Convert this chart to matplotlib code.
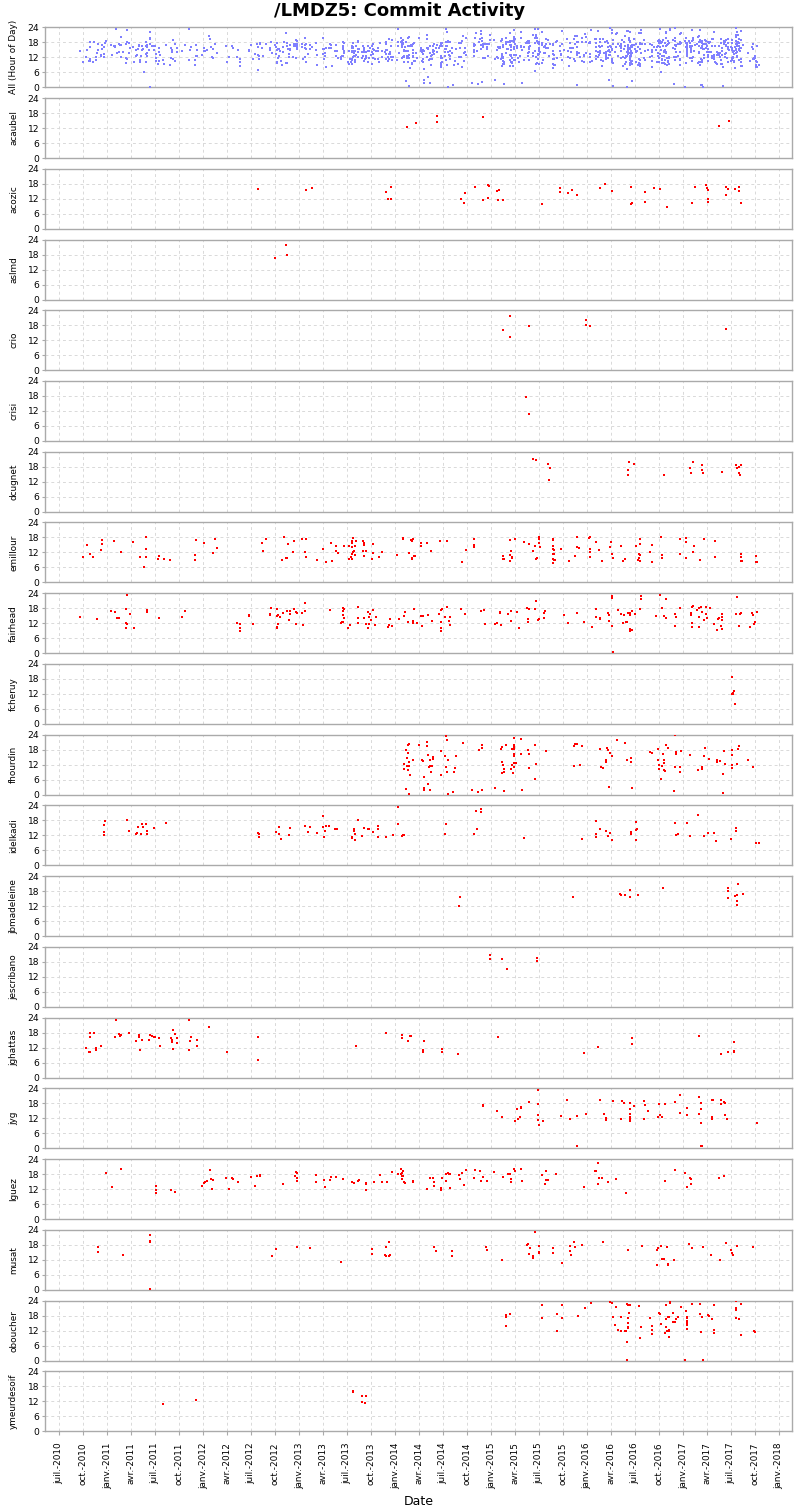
import datetime as dt
import matplotlib
matplotlib.use("Agg")
import matplotlib.pyplot as plt
import matplotlib.dates as mdates
from matplotlib.ticker import FuncFormatter

# ---------------- data: (decimal year, hour of day) per author ----------------
acaubel = [(2014.12, 12.4), (2014.22, 13.9), (2014.44, 16.9), (2014.44, 14.3), (2014.92, 16.3),
           (2017.37, 13.0), (2017.48, 14.9)]

acozic = [(2012.57, 16.0), (2013.07, 15.5), (2013.13, 16.3), (2013.90, 14.9), (2013.92, 12.0),
          (2013.96, 16.7), (2013.96, 12.0), (2014.69, 12.1), (2014.72, 10.5), (2014.73, 14.3),
          (2014.83, 16.9), (2014.92, 11.7), (2014.97, 17.5), (2014.98, 17.2), (2014.97, 12.4),
          (2015.06, 15.0), (2015.08, 15.7), (2015.07, 11.7), (2015.12, 11.6), (2015.53, 9.9),
          (2015.72, 16.5), (2015.72, 14.7), (2015.80, 14.5), (2015.84, 15.6), (2015.90, 13.5),
          (2016.14, 16.3), (2016.19, 18.0), (2016.26, 15.1), (2016.46, 16.7), (2016.47, 10.5),
          (2016.46, 10.1), (2016.60, 14.7), (2016.60, 10.8), (2016.70, 16.3), (2016.76, 16.0),
          (2016.83, 8.8), (2017.09, 10.5), (2017.12, 16.9), (2017.24, 17.5), (2017.25, 16.4),
          (2017.26, 15.5), (2017.26, 12.1), (2017.26, 10.7), (2017.45, 16.8), (2017.47, 16.1),
          (2017.47, 15.9), (2017.45, 13.6), (2017.54, 16.0), (2017.58, 16.7), (2017.58, 15.1),
          (2017.60, 10.3)]

aslmd = [(2012.75, 16.8), (2012.86, 21.8), (2012.87, 17.7)]

crio = [(2015.12, 16.2), (2015.20, 21.6), (2015.20, 13.1), (2015.40, 17.8), (2015.99, 20.1),
        (2015.99, 18.0), (2016.03, 17.6), (2017.45, 16.4)]

crisi = [(2015.36, 17.6), (2015.39, 10.9)]

dcugnet = [(2015.44, 20.9), (2015.47, 20.5), (2015.59, 19.0), (2015.61, 17.3), (2015.60, 12.7),
           (2016.43, 16.8), (2016.44, 19.7), (2016.49, 19.2), (2016.43, 14.6), (2016.80, 14.6),
           (2017.07, 17.6), (2017.10, 19.7), (2017.08, 15.5), (2017.20, 16.5), (2017.20, 18.5),
           (2017.21, 15.5), (2017.41, 15.7), (2017.55, 18.5), (2017.56, 17.4), (2017.58, 17.7),
           (2017.60, 18.8), (2017.58, 15.5), (2017.59, 14.5)]

emillour = [(2010.75, 10.3), (2010.79, 14.9), (2010.82, 11.3), (2010.85, 10.3), (2010.93, 13.1),
            (2010.94, 15.2), (2010.94, 17.1), (2011.07, 16.5), (2011.14, 12.3), (2011.27, 16.0),
            (2011.34, 10.1), (2011.40, 18.1), (2011.40, 13.5), (2011.40, 10.0), (2011.38, 6.3),
            (2011.54, 10.7), (2011.53, 9.5), (2011.59, 9.2), (2011.65, 8.9), (2011.91, 10.9),
            (2011.91, 8.8), (2011.92, 16.8), (2012.01, 15.6), (2012.10, 11.9), (2012.12, 17.5),
            (2012.14, 13.7), (2012.61, 15.6), (2012.62, 12.7), (2012.65, 17.3), (2012.84, 18.3),
            (2012.88, 15.5), (2012.82, 8.9), (2012.86, 9.6), (2012.87, 9.7), (2012.94, 16.5),
            (2012.93, 12.3), (2013.03, 17.3), (2013.07, 17.3), (2013.06, 12.0), (2013.07, 10.3),
            (2013.18, 8.9), (2013.25, 13.5), (2013.28, 8.3), (2013.33, 15.9), (2013.34, 8.4),
            (2013.38, 14.7), (2013.38, 12.5), (2013.40, 11.7), (2013.47, 14.5), (2013.52, 14.7),
            (2013.52, 9.5), (2013.55, 16.5), (2013.55, 15.6), (2013.55, 14.3), (2013.56, 17.9),
            (2013.56, 12.1), (2013.55, 11.2), (2013.54, 10.3), (2013.55, 9.2), (2013.58, 14.7),
            (2013.59, 16.5), (2013.57, 12.5), (2013.58, 10.9), (2013.66, 16.5), (2013.67, 15.6),
            (2013.67, 14.9), (2013.66, 12.7), (2013.69, 12.7), (2013.67, 10.5), (2013.77, 15.3),
            (2013.77, 11.7), (2013.76, 9.3), (2013.83, 10.0), (2013.86, 12.1), (2014.02, 10.8),
            (2014.08, 17.9), (2014.08, 17.3), (2014.16, 17.1), (2014.18, 17.3), (2014.17, 16.4),
            (2014.14, 11.7), (2014.17, 9.5), (2014.20, 10.5), (2014.17, 9.7), (2014.21, 10.7),
            (2014.27, 15.6), (2014.27, 14.5), (2014.33, 15.6), (2014.37, 12.5), (2014.47, 16.4),
            (2014.54, 16.7), (2014.70, 8.1), (2014.74, 13.1), (2014.82, 17.5), (2014.82, 15.1),
            (2014.82, 14.3), (2015.12, 10.7), (2015.12, 9.3), (2015.13, 9.5), (2015.20, 8.4),
            (2015.20, 10.8), (2015.20, 16.8), (2015.21, 12.7), (2015.22, 9.6), (2015.22, 10.1),
            (2015.25, 17.3), (2015.34, 16.3), (2015.40, 15.2), (2015.44, 12.7), (2015.46, 14.5),
            (2015.47, 9.5), (2015.48, 9.6), (2015.50, 17.2), (2015.50, 15.6), (2015.50, 18.3),
            (2015.51, 14.1), (2015.64, 17.3), (2015.65, 17.1), (2015.64, 14.5), (2015.65, 13.5),
            (2015.66, 12.8), (2015.64, 11.5), (2015.66, 11.5), (2015.64, 9.3), (2015.66, 8.8),
            (2015.65, 7.7), (2015.67, 8.9), (2015.73, 13.2), (2015.81, 8.4), (2015.87, 10.7),
            (2015.90, 18.1), (2015.90, 14.3), (2015.92, 13.6), (2016.02, 17.6), (2016.03, 18.0),
            (2016.03, 12.3), (2016.03, 13.3), (2016.03, 10.3), (2016.09, 16.3), (2016.12, 12.8),
            (2016.16, 8.5), (2016.24, 14.0), (2016.25, 16.3), (2016.26, 11.5), (2016.27, 9.9),
            (2016.35, 14.4), (2016.37, 8.7), (2016.39, 9.2), (2016.51, 14.5), (2016.53, 8.9),
            (2016.54, 11.3), (2016.55, 10.9), (2016.55, 15.5), (2016.55, 17.3), (2016.55, 8.7),
            (2016.54, 9.9), (2016.66, 12.1), (2016.68, 8.0), (2016.68, 14.8), (2016.77, 18.1),
            (2016.78, 10.8), (2016.78, 9.6), (2016.97, 17.3), (2017.03, 17.6), (2017.03, 16.3),
            (2017.03, 9.9), (2016.97, 11.2), (2017.10, 12.1), (2017.11, 14.7), (2017.18, 9.1),
            (2017.22, 17.3), (2017.33, 16.5), (2017.33, 10.0), (2017.60, 11.3), (2017.60, 10.3),
            (2017.60, 8.7), (2017.61, 8.5), (2017.76, 10.5), (2017.76, 8.3), (2017.77, 8.0)]

fairhead = [(2010.71, 14.4), (2010.89, 13.7), (2011.04, 16.9), (2011.08, 16.3), (2011.10, 13.9),
            (2011.12, 14.0), (2011.19, 17.5), (2011.20, 23.1), (2011.19, 11.9), (2011.20, 11.5),
            (2011.19, 9.9), (2011.24, 15.6), (2011.28, 10.0), (2011.41, 17.1), (2011.41, 16.3),
            (2011.54, 14.1), (2011.78, 14.4), (2011.81, 16.9), (2012.35, 12.1), (2012.38, 11.5),
            (2012.38, 10.0), (2012.38, 8.7), (2012.52, 11.5), (2012.48, 15.1), (2012.48, 14.7),
            (2012.69, 15.1), (2012.69, 15.6), (2012.71, 18.0), (2012.77, 17.7), (2012.77, 14.9),
            (2012.78, 15.3), (2012.78, 11.7), (2012.77, 9.9), (2012.77, 10.3), (2012.80, 14.4),
            (2012.83, 16.1), (2012.87, 16.7), (2012.90, 16.8), (2012.90, 15.5), (2012.89, 13.2),
            (2012.94, 17.5), (2012.97, 16.4), (2012.98, 16.1), (2012.97, 11.7), (2013.03, 16.1),
            (2013.04, 11.2), (2013.06, 19.9), (2013.06, 16.9), (2013.32, 17.2), (2013.45, 18.1),
            (2013.47, 17.6), (2013.45, 16.7), (2013.45, 15.2), (2013.47, 13.9), (2013.45, 12.5),
            (2013.43, 12.1), (2013.44, 12.5), (2013.53, 11.3), (2013.51, 10.1), (2013.61, 18.4),
            (2013.61, 14.1), (2013.61, 12.0), (2013.67, 14.1), (2013.72, 16.5), (2013.74, 15.7),
            (2013.77, 17.2), (2013.73, 14.4), (2013.75, 13.1), (2013.70, 11.7), (2013.73, 11.7),
            (2013.72, 10.1), (2013.79, 11.2), (2013.80, 14.4), (2013.92, 10.4), (2013.94, 11.3),
            (2013.97, 11.0), (2013.95, 13.5), (2014.04, 13.6), (2014.09, 14.9), (2014.10, 16.3),
            (2014.13, 12.4), (2014.18, 12.0), (2014.18, 12.7), (2014.20, 17.7), (2014.23, 11.9),
            (2014.20, 17.7), (2014.18, 12.0), (2014.23, 11.9), (2014.27, 14.8), (2014.29, 14.9),
            (2014.28, 10.7), (2014.34, 15.3), (2014.38, 12.9), (2014.46, 15.6), (2014.48, 17.1),
            (2014.49, 17.6), (2014.48, 12.3), (2014.48, 9.9), (2014.48, 8.9), (2014.52, 14.3),
            (2014.54, 18.3), (2014.56, 12.9), (2014.57, 14.4), (2014.57, 11.2), (2014.69, 17.6),
            (2014.73, 15.6), (2014.89, 16.9), (2014.93, 17.2), (2014.94, 11.6), (2015.04, 11.5),
            (2015.06, 12.1), (2015.10, 11.3), (2015.09, 16.3), (2015.09, 15.9), (2015.18, 15.5),
            (2015.21, 16.9), (2015.21, 12.9), (2015.27, 16.5), (2015.29, 10.1), (2015.37, 18.0),
            (2015.39, 17.6), (2015.38, 13.6), (2015.38, 12.5), (2015.47, 20.9), (2015.46, 17.6),
            (2015.49, 13.1), (2015.50, 13.5), (2015.56, 16.7), (2015.55, 13.9), (2015.55, 16.1),
            (2015.76, 15.1), (2015.80, 12.0), (2015.90, 16.0), (2015.97, 12.5), (2016.05, 10.5),
            (2016.09, 17.7), (2016.09, 14.5), (2016.14, 14.0), (2016.14, 13.6), (2016.22, 16.1),
            (2016.23, 15.1), (2016.23, 12.9), (2016.26, 22.9), (2016.26, 21.9), (2016.26, 10.7),
            (2016.27, 0.4), (2016.32, 17.3), (2016.35, 15.7), (2016.38, 15.2), (2016.37, 12.1),
            (2016.41, 12.4), (2016.42, 12.5), (2016.43, 15.9), (2016.45, 15.9), (2016.45, 15.2),
            (2016.47, 16.8), (2016.50, 15.5), (2016.45, 9.6), (2016.45, 8.9), (2016.47, 9.2),
            (2016.55, 17.6), (2016.56, 22.9), (2016.56, 21.6), (2016.76, 23.2), (2016.78, 18.0),
            (2016.82, 21.6), (2016.72, 14.8), (2016.80, 14.7), (2016.82, 14.0), (2016.91, 15.5),
            (2016.93, 14.3), (2016.91, 10.9), (2016.97, 18.0), (2017.08, 16.1), (2017.08, 15.1),
            (2017.09, 18.4), (2017.10, 18.8), (2017.09, 11.9), (2017.09, 10.4), (2017.14, 17.2),
            (2017.16, 14.3), (2017.16, 10.3), (2017.17, 18.0), (2017.19, 18.5), (2017.20, 16.3),
            (2017.22, 13.1), (2017.24, 18.4), (2017.24, 15.6), (2017.25, 14.0), (2017.28, 18.1),
            (2017.32, 11.7), (2017.35, 9.3), (2017.36, 13.5), (2017.37, 13.9), (2017.40, 15.6),
            (2017.41, 14.4), (2017.41, 13.1), (2017.39, 10.9), (2017.40, 9.5), (2017.56, 22.3),
            (2017.55, 15.5), (2017.58, 10.9), (2017.59, 15.7), (2017.60, 15.9), (2017.72, 16.1),
            (2017.73, 15.2), (2017.77, 16.5), (2017.70, 10.5), (2017.74, 11.5), (2017.75, 12.4)]

fcheruy = [(2017.51, 18.9), (2017.53, 13.2), (2017.51, 11.9), (2017.52, 11.8), (2017.52, 12.2),
           (2017.54, 7.8)]

fhourdin = [(2014.09, 12.4), (2014.09, 10.1), (2014.11, 18.0), (2014.12, 14.7), (2014.12, 11.6),
            (2014.13, 19.9), (2014.14, 20.3), (2014.13, 16.7), (2014.14, 13.1), (2014.14, 11.6),
            (2014.13, 10.0), (2014.15, 7.7), (2014.11, 2.4), (2014.14, 0.4), (2014.18, 13.7),
            (2014.25, 19.9), (2014.19, 13.7), (2014.28, 14.0), (2014.29, 13.3), (2014.30, 7.2),
            (2014.30, 2.8), (2014.30, 1.7), (2014.33, 20.9), (2014.33, 19.3), (2014.34, 15.9),
            (2014.35, 11.1), (2014.34, 4.1), (2014.36, 13.9), (2014.36, 11.5), (2014.37, 8.9),
            (2014.38, 11.5), (2014.39, 15.1), (2014.39, 14.1), (2014.36, 1.9), (2014.48, 17.6),
            (2014.48, 8.0), (2014.52, 15.5), (2014.53, 23.3), (2014.54, 22.0), (2014.53, 11.1),
            (2014.54, 9.1), (2014.55, 14.0), (2014.55, 0.3), (2014.60, 1.1), (2014.61, 8.9),
            (2014.62, 10.7), (2014.63, 15.3), (2014.71, 20.7), (2014.80, 1.7), (2014.86, 1.2),
            (2014.87, 18.0), (2014.90, 19.9), (2014.90, 18.7), (2014.90, 2.0), (2015.04, 2.8),
            (2015.10, 18.4), (2015.11, 19.0), (2015.15, 19.7), (2015.13, 1.3), (2015.11, 13.2),
            (2015.12, 12.0), (2015.13, 10.3), (2015.11, 8.7), (2015.13, 9.2), (2015.22, 18.4),
            (2015.24, 22.8), (2015.24, 20.0), (2015.24, 18.9), (2015.24, 18.1), (2015.24, 16.1),
            (2015.24, 15.3), (2015.24, 12.8), (2015.22, 11.9), (2015.26, 12.8), (2015.24, 11.1),
            (2015.21, 10.1), (2015.23, 8.7), (2015.31, 22.3), (2015.31, 16.1), (2015.32, 1.9),
            (2015.38, 17.9), (2015.39, 16.1), (2015.40, 10.8), (2015.46, 19.9), (2015.47, 12.1),
            (2015.46, 6.4), (2015.57, 17.5), (2015.86, 19.5), (2015.87, 20.4), (2015.90, 20.4),
            (2015.95, 19.6), (2015.86, 11.3), (2015.93, 12.0), (2016.13, 18.1), (2016.21, 18.7),
            (2016.22, 17.9), (2016.24, 16.5), (2016.26, 15.3), (2016.20, 14.0), (2016.20, 13.1),
            (2016.15, 10.9), (2016.17, 10.7), (2016.23, 3.1), (2016.31, 21.7), (2016.40, 20.7),
            (2016.42, 14.0), (2016.46, 14.5), (2016.46, 13.2), (2016.47, 2.7), (2016.66, 17.2),
            (2016.68, 16.8), (2016.74, 18.4), (2016.82, 19.7), (2016.84, 18.7), (2016.79, 16.4),
            (2016.80, 14.0), (2016.74, 13.9), (2016.75, 11.9), (2016.78, 11.5), (2016.80, 12.5),
            (2016.80, 9.9), (2016.75, 10.1), (2016.77, 6.3), (2016.81, 9.5), (2016.92, 23.7),
            (2016.93, 16.9), (2016.93, 16.4), (2016.98, 17.6), (2016.92, 11.1), (2016.97, 11.1),
            (2016.97, 8.9), (2016.90, 1.5), (2017.07, 16.0), (2017.15, 9.9), (2017.20, 10.9),
            (2017.20, 10.3), (2017.22, 15.3), (2017.23, 18.8), (2017.27, 14.3), (2017.35, 14.0),
            (2017.35, 13.1), (2017.38, 13.6), (2017.43, 17.6), (2017.44, 12.1), (2017.42, 8.1),
            (2017.42, 0.7), (2017.51, 15.9), (2017.51, 17.9), (2017.51, 11.9), (2017.51, 10.8),
            (2017.56, 12.1), (2017.57, 18.3), (2017.58, 19.5), (2017.68, 13.9), (2017.73, 11.2)]

idelkadi = [(2010.97, 12.0), (2010.97, 13.2), (2010.97, 16.0), (2010.98, 17.6), (2010.98, 17.9),
            (2011.21, 18.1), (2011.23, 13.7), (2011.30, 12.7), (2011.31, 12.8), (2011.32, 15.3),
            (2011.36, 16.7), (2011.37, 15.2), (2011.35, 12.4), (2011.40, 16.7), (2011.41, 13.7),
            (2011.41, 12.7), (2011.49, 14.8), (2011.61, 16.9), (2012.57, 12.8), (2012.58, 12.7),
            (2012.58, 11.2), (2012.76, 13.3), (2012.79, 15.5), (2012.79, 12.5), (2012.81, 10.5),
            (2012.89, 12.3), (2012.90, 14.8), (2013.06, 15.9), (2013.09, 13.5), (2013.11, 15.2),
            (2013.18, 13.1), (2013.25, 19.7), (2013.25, 15.2), (2013.26, 11.5), (2013.27, 13.6),
            (2013.28, 15.6), (2013.31, 15.6), (2013.37, 14.7), (2013.39, 14.7), (2013.55, 11.5),
            (2013.55, 10.9), (2013.58, 10.3), (2013.58, 12.5), (2013.57, 14.7), (2013.57, 13.7),
            (2013.61, 18.0), (2013.65, 11.7), (2013.67, 14.9), (2013.72, 14.5), (2013.73, 14.4),
            (2013.77, 13.3), (2013.82, 15.6), (2013.82, 14.7), (2013.82, 11.3), (2013.90, 11.2),
            (2013.98, 12.3), (2014.03, 23.5), (2014.03, 16.4), (2014.07, 11.6), (2014.08, 12.1),
            (2014.09, 12.3), (2014.53, 16.7), (2014.52, 12.4), (2014.84, 21.6), (2014.89, 22.4),
            (2014.89, 21.3), (2014.85, 14.5), (2014.82, 12.5), (2015.34, 10.9), (2015.95, 10.7),
            (2016.09, 17.6), (2016.14, 14.7), (2016.09, 12.4), (2016.09, 11.5), (2016.20, 13.6),
            (2016.22, 11.7), (2016.24, 12.9), (2016.26, 10.1), (2016.46, 13.3), (2016.46, 12.7),
            (2016.51, 17.3), (2016.51, 14.3), (2016.52, 14.7), (2016.51, 10.3), (2016.92, 16.8),
            (2017.04, 17.1), (2017.15, 20.3), (2016.93, 12.0), (2016.95, 12.4), (2017.07, 11.7),
            (2017.22, 11.7), (2017.26, 12.9), (2017.32, 12.8), (2017.34, 9.7), (2017.50, 10.4),
            (2017.55, 15.1), (2017.55, 13.6), (2017.76, 8.8), (2017.79, 9.1)]

jbmadeleine = [(2014.68, 15.6), (2014.66, 12.1), (2015.85, 15.6), (2016.34, 16.7), (2016.35, 16.4),
               (2016.40, 16.4), (2016.45, 18.5), (2016.45, 15.5), (2016.53, 16.3), (2016.79, 19.1),
               (2017.47, 19.3), (2017.47, 17.9), (2017.47, 15.2), (2017.57, 20.8), (2017.56, 16.5),
               (2017.54, 16.1), (2017.62, 16.8), (2017.56, 14.1), (2017.56, 12.4)]

jescribano = [(2014.99, 20.8), (2014.99, 19.1), (2015.11, 19.3), (2015.17, 15.2), (2015.48, 19.7),
              (2015.48, 18.5)]

jghattas = [(2010.78, 12.0), (2010.82, 16.1), (2010.81, 10.4), (2010.82, 10.4), (2010.82, 18.0),
            (2010.86, 18.0), (2010.88, 12.0), (2010.88, 10.9), (2010.93, 12.5), (2011.09, 23.2),
            (2011.08, 16.4), (2011.12, 17.5), (2011.13, 16.8), (2011.14, 17.1), (2011.23, 17.9),
            (2011.30, 14.8), (2011.33, 17.1), (2011.33, 16.4), (2011.34, 10.9), (2011.36, 14.9),
            (2011.43, 14.9), (2011.45, 17.2), (2011.47, 16.7), (2011.49, 16.4), (2011.50, 16.4),
            (2011.54, 15.7), (2011.55, 12.8), (2011.68, 18.9), (2011.71, 17.3), (2011.66, 15.7),
            (2011.67, 14.9), (2011.67, 14.1), (2011.68, 11.5), (2011.69, 11.5), (2011.73, 15.7),
            (2011.73, 14.0), (2011.85, 23.2), (2011.87, 16.1), (2011.86, 14.8), (2011.85, 10.9),
            (2011.94, 15.1), (2011.94, 12.7), (2012.06, 20.4), (2012.25, 10.1), (2012.57, 16.1),
            (2012.57, 7.1), (2013.59, 12.8), (2013.90, 18.0), (2014.07, 17.1), (2014.07, 16.0),
            (2014.13, 14.7), (2014.15, 16.7), (2014.16, 16.7), (2014.30, 14.7), (2014.29, 11.2),
            (2014.29, 10.3), (2014.49, 11.6), (2014.49, 10.3), (2014.65, 9.3), (2015.07, 16.1),
            (2015.97, 10.0), (2016.11, 12.1), (2016.47, 16.0), (2016.47, 13.6), (2017.17, 16.5),
            (2017.39, 9.5), (2017.47, 10.1), (2017.53, 14.4), (2017.53, 10.7), (2017.53, 10.3)]

jyg = [(2014.92, 17.5), (2014.92, 17.1), (2015.06, 14.8), (2015.11, 12.7), (2015.25, 10.9),
       (2015.27, 15.6), (2015.28, 11.6), (2015.30, 12.7), (2015.31, 16.7), (2015.31, 16.3),
       (2015.40, 18.4), (2015.49, 23.2), (2015.49, 17.9), (2015.49, 13.2), (2015.49, 11.5),
       (2015.50, 9.5), (2015.54, 11.1), (2015.73, 12.8), (2015.79, 19.5), (2015.82, 11.7),
       (2015.90, 13.1), (2015.90, 0.9), (2015.99, 13.7), (2016.14, 19.3), (2016.18, 13.6),
       (2016.20, 12.1), (2016.20, 11.3), (2016.27, 18.8), (2016.35, 11.6), (2016.36, 18.9),
       (2016.38, 18.1), (2016.45, 18.1), (2016.45, 15.7), (2016.45, 13.7), (2016.45, 12.7),
       (2016.45, 11.9), (2016.45, 10.9), (2016.49, 17.1), (2016.59, 18.8), (2016.60, 17.5),
       (2016.59, 11.6), (2016.63, 14.8), (2016.74, 12.4), (2016.75, 17.7), (2016.76, 13.2),
       (2016.78, 12.7), (2016.81, 17.9), (2016.91, 18.5), (2016.97, 21.3), (2016.97, 14.1),
       (2017.04, 16.3), (2017.04, 13.3), (2017.17, 20.7), (2017.19, 18.3), (2017.19, 15.7),
       (2017.17, 13.6), (2017.19, 10.1), (2017.19, 1.1), (2017.20, 0.9), (2017.30, 19.2),
       (2017.31, 19.3), (2017.30, 12.7), (2017.30, 11.6), (2017.39, 19.5), (2017.39, 17.6),
       (2017.43, 18.5), (2017.44, 18.0), (2017.44, 13.2), (2017.46, 11.6), (2017.77, 10.1)]

lguez = [(2010.99, 18.4), (2011.05, 12.8), (2011.14, 20.0), (2011.51, 13.4), (2011.51, 11.6),
         (2011.51, 10.5), (2011.66, 11.6), (2011.71, 10.7), (2011.99, 13.1), (2012.01, 14.5),
         (2012.02, 14.7), (2012.04, 15.1), (2012.07, 19.5), (2012.08, 16.2), (2012.10, 15.5),
         (2012.09, 12.0), (2012.24, 16.5), (2012.27, 12.0), (2012.30, 16.5), (2012.31, 15.9),
         (2012.36, 15.0), (2012.50, 16.8), (2012.54, 13.4), (2012.56, 17.3), (2012.59, 17.6),
         (2012.59, 17.3), (2012.83, 14.1), (2012.95, 17.4), (2012.97, 18.9), (2012.98, 18.6),
         (2012.98, 16.5), (2012.98, 15.3), (2013.17, 17.7), (2013.17, 15.0), (2013.26, 15.5),
         (2013.27, 12.7), (2013.32, 15.8), (2013.33, 16.9), (2013.38, 17.0), (2013.45, 16.2),
         (2013.55, 14.7), (2013.57, 14.6), (2013.61, 15.3), (2013.62, 15.5), (2013.70, 14.3),
         (2013.70, 11.6), (2013.70, 14.1), (2013.78, 15.0), (2013.84, 17.8), (2013.86, 14.7),
         (2013.91, 15.0), (2013.97, 18.8), (2014.03, 18.0), (2014.06, 19.9), (2014.07, 18.6),
         (2014.08, 19.1), (2014.06, 18.0), (2014.07, 17.2), (2014.08, 17.2), (2014.07, 16.0),
         (2014.09, 14.7), (2014.10, 14.5), (2014.18, 15.0), (2014.19, 15.1), (2014.33, 12.0),
         (2014.36, 16.6), (2014.39, 16.6), (2014.40, 14.7), (2014.40, 13.2), (2014.48, 12.6),
         (2014.48, 11.6), (2014.49, 16.6), (2014.53, 18.2), (2014.53, 15.3), (2014.55, 18.6),
         (2014.56, 18.2), (2014.57, 18.1), (2014.57, 12.6), (2014.67, 17.6), (2014.68, 15.9),
         (2014.70, 18.6), (2014.72, 13.8), (2014.74, 19.6), (2014.82, 16.6), (2014.83, 19.6),
         (2014.88, 19.2), (2014.89, 15.3), (2014.91, 17.0), (2014.96, 15.4), (2015.03, 18.8),
         (2015.12, 17.0), (2015.18, 18.0), (2015.20, 18.0), (2015.21, 16.1), (2015.21, 15.0),
         (2015.24, 19.9), (2015.25, 19.2), (2015.31, 19.9), (2015.32, 15.1), (2015.53, 17.7),
         (2015.57, 19.2), (2015.57, 15.8), (2015.59, 15.8), (2015.56, 13.9), (2015.68, 18.1),
         (2015.97, 12.8), (2016.08, 19.2), (2016.11, 22.6), (2016.09, 19.2), (2016.12, 16.4),
         (2016.16, 16.6), (2016.11, 14.2), (2016.22, 14.7), (2016.30, 16.1), (2016.41, 10.3),
         (2016.81, 15.1), (2016.91, 19.6), (2017.02, 18.6), (2017.07, 16.6), (2017.08, 15.9),
         (2017.08, 14.2), (2017.04, 12.7), (2017.37, 16.4), (2017.43, 17.2)]

musat = [(2010.90, 17.2), (2010.90, 15.1), (2011.16, 14.1), (2011.45, 22.0), (2011.44, 19.3),
         (2011.44, 19.7), (2011.44, 0.3), (2012.72, 13.6), (2012.76, 16.3), (2012.98, 17.3),
         (2013.11, 16.8), (2013.43, 11.3), (2013.76, 16.4), (2013.76, 14.3), (2013.90, 17.2),
         (2013.89, 14.0), (2013.90, 13.5), (2013.94, 19.3), (2013.94, 13.5), (2013.95, 14.1),
         (2014.40, 17.3), (2014.43, 15.6), (2014.59, 15.6), (2014.59, 13.7), (2014.95, 17.3),
         (2014.96, 16.0), (2015.11, 12.1), (2015.46, 23.3), (2015.38, 18.5), (2015.37, 18.1),
         (2015.41, 16.7), (2015.40, 14.3), (2015.44, 13.7), (2015.44, 12.7), (2015.50, 17.5),
         (2015.50, 15.3), (2015.50, 14.7), (2015.65, 16.9), (2015.65, 14.7), (2015.74, 10.8),
         (2015.82, 17.6), (2015.86, 19.2), (2015.87, 17.3), (2015.82, 15.6), (2015.83, 14.1),
         (2015.95, 18.0), (2016.17, 19.2), (2016.43, 16.1), (2016.57, 17.5), (2016.73, 16.0),
         (2016.74, 16.7), (2016.77, 17.7), (2016.83, 17.1), (2016.73, 10.1), (2016.78, 12.5),
         (2016.80, 12.5), (2016.84, 10.5), (2016.84, 10.1), (2016.90, 12.1), (2017.06, 18.4),
         (2017.09, 16.7), (2017.21, 17.3), (2017.29, 14.0), (2017.38, 12.0), (2017.45, 18.8),
         (2017.50, 16.1), (2017.51, 14.9), (2017.52, 14.0), (2017.56, 17.6), (2017.73, 17.3)]

oboucher = [(2015.16, 18.1), (2015.16, 17.3), (2015.20, 18.5), (2015.16, 13.7), (2015.53, 22.1),
            (2015.53, 17.1), (2015.69, 18.7), (2015.74, 22.4), (2015.74, 17.2), (2015.69, 11.9),
            (2015.91, 18.0), (2015.98, 21.2), (2016.04, 23.1), (2016.24, 23.6), (2016.26, 23.1),
            (2016.30, 21.5), (2016.27, 17.3), (2016.29, 14.3), (2016.32, 12.4), (2016.35, 17.3),
            (2016.35, 11.9), (2016.40, 11.9), (2016.42, 7.5), (2016.42, 0.3), (2016.42, 22.5),
            (2016.43, 22.4), (2016.45, 22.1), (2016.44, 19.1), (2016.43, 17.1), (2016.43, 15.1),
            (2016.43, 13.6), (2016.43, 13.2), (2016.41, 12.0), (2016.54, 21.7), (2016.56, 13.6),
            (2016.55, 9.2), (2016.66, 17.2), (2016.68, 14.0), (2016.68, 12.4), (2016.68, 10.5),
            (2016.75, 18.9), (2016.76, 18.7), (2016.77, 14.8), (2016.82, 22.3), (2016.86, 23.3),
            (2016.86, 23.1), (2016.82, 16.5), (2016.84, 17.5), (2016.85, 17.6), (2016.82, 13.6),
            (2016.83, 11.9), (2016.85, 11.9), (2016.85, 12.3), (2016.85, 9.5), (2016.81, 11.1),
            (2016.89, 19.1), (2016.89, 15.6), (2016.91, 15.3), (2016.93, 16.7), (2016.95, 17.5),
            (2016.98, 21.6), (2017.03, 19.9), (2017.04, 17.6), (2017.04, 16.9), (2017.04, 15.9),
            (2017.04, 15.1), (2017.04, 14.3), (2017.04, 12.7), (2017.02, 0.3), (2017.09, 22.8),
            (2017.18, 22.8), (2017.18, 18.8), (2017.20, 17.6), (2017.19, 11.5), (2017.21, 0.3),
            (2017.26, 18.1), (2017.27, 17.9), (2017.30, 16.5), (2017.32, 22.1), (2017.32, 12.4),
            (2017.32, 11.2), (2017.55, 23.7), (2017.55, 21.1), (2017.55, 20.3), (2017.60, 22.5),
            (2017.55, 17.2), (2017.58, 16.5), (2017.60, 10.1), (2017.74, 11.7), (2017.75, 11.6)]

ymeurdesoif = [(2011.58, 10.9), (2011.92, 12.5), (2013.56, 16.0), (2013.56, 15.7), (2013.65, 14.0),
               (2013.65, 11.9), (2013.69, 14.3), (2013.68, 11.3)]

author_names = ["acaubel", "acozic", "aslmd", "crio", "crisi", "dcugnet", "emillour", "fairhead",
                "fcheruy", "fhourdin", "idelkadi", "jbmadeleine", "jescribano", "jghattas", "jyg",
                "lguez", "musat", "oboucher", "ymeurdesoif"]
author_series = [acaubel, acozic, aslmd, crio, crisi, dcugnet, emillour, fairhead, fcheruy,
                 fhourdin, idelkadi, jbmadeleine, jescribano, jghattas, jyg, lguez, musat,
                 oboucher, ymeurdesoif]

hour_ticks = [0, 6, 12, 18, 24]
fr_months = {1: "janv.", 4: "avr.", 7: "juil.", 10: "oct."}
x_start, x_end = 2010.35, 2018.135
title = "/LMDZ5: Commit Activity"


def to_date(y):
    yr = int(y)
    a = dt.datetime(yr, 1, 1)
    b = dt.datetime(yr + 1, 1, 1)
    return a + (b - a) * (y - yr)


def fr_fmt(x, pos=None):
    d = mdates.num2date(x)
    return f"{fr_months.get(d.month, d.strftime('%b'))}-{d.year}"


plt.rcParams["font.family"] = ["DejaVu Sans"]

fig = plt.figure(figsize=(8.0, 15.1), dpi=100)
n = 1 + len(author_series)
left, right = 45 / 800, 792 / 800
top_px, bot_px = 27.3, 1431.3
pitch = (bot_px - top_px - 60) / (n - 1)

all_pts = [p for s in author_series for p in s]
panels = [("All (Hour of Day)", all_pts, "#8080ff")] + \
         [(nm, s, "#ff0000") for nm, s in zip(author_names, author_series)]

axes = []
for i, (label, pts, color) in enumerate(panels):
    y0 = top_px + i * pitch
    ax = fig.add_axes([left, 1 - (y0 + 60) / 1510, right - left, 60 / 1510],
                      sharex=axes[0] if axes else None)
    axes.append(ax)
    xs = [to_date(p[0]) for p in pts]
    ys = [p[1] for p in pts]
    ax.plot(xs, ys, linestyle="none", marker="s", markersize=1.9, markeredgewidth=0,
            color=color, zorder=3)
    ax.set_ylim(0, 24)
    ax.set_yticks(hour_ticks)
    ax.set_xlim(to_date(x_start), to_date(x_end))
    ax.xaxis.set_major_locator(mdates.MonthLocator(bymonth=[1, 4, 7, 10]))
    ax.xaxis.set_major_formatter(FuncFormatter(fr_fmt))
    ax.grid(True, color="#d9d9d9", linestyle=(0, (3, 3)), linewidth=0.7, zorder=0)
    for sp in ax.spines.values():
        sp.set_color("#aaaaaa")
        sp.set_linewidth(1.0)
    ax.tick_params(axis="both", colors="#aaaaaa", labelcolor="black", labelsize=6.6,
                   length=2, width=0.8, pad=2)
    ax.set_ylabel(label, fontsize=6.4)
    ax.yaxis.set_label_coords(-0.036, 0.5)
    if i < n - 1:
        ax.tick_params(axis="x", labelbottom=False, length=0)

last = axes[-1]
for lab in last.get_xticklabels():
    lab.set_rotation(90)
last.tick_params(axis="x", labelsize=6.4, pad=5, length=3)
last.set_xlabel("Date", fontsize=9, labelpad=4)

fig.suptitle(title, fontsize=13, fontweight="bold", y=0.9985, va="top")
fig.savefig("out.png", dpi=100)
